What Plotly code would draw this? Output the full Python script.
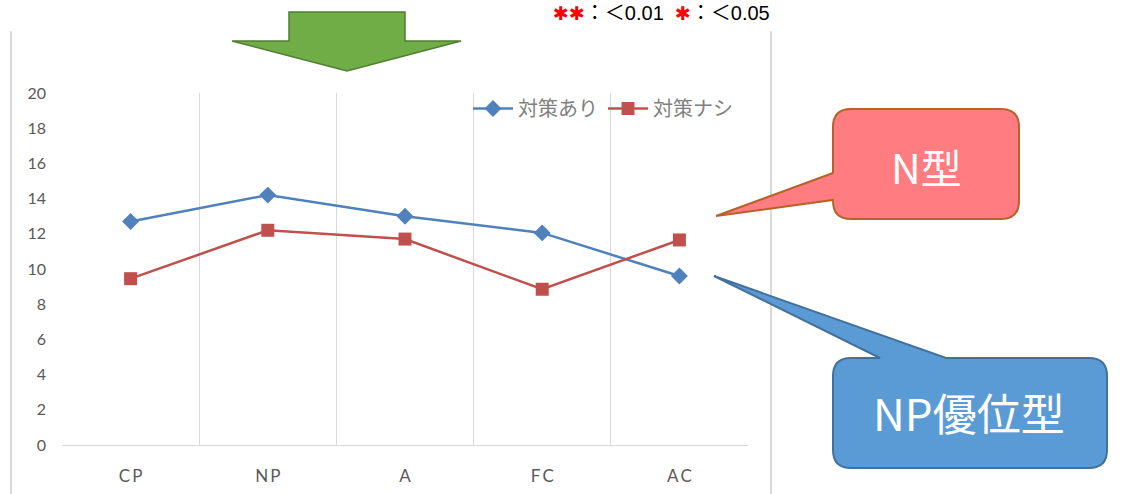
import plotly.graph_objects as go

# ---- data ----
categories = ["CP", "NP", "A", "FC", "AC"]
tick_labels = ["C\u2009P", "N\u2009P", "A", "F\u2009C", "A\u2009C"]
with_measures = [12.7, 14.2, 13.0, 12.05, 9.6]      # 対策あり
without_measures = [9.45, 12.2, 11.7, 8.85, 11.65]  # 対策ナシ
y_ticks = [0, 2, 4, 6, 8, 10, 12, 14, 16, 18, 20]

W, H = 1122, 494
ML, MR, MT, MB = 62, 374, 93, 49
PW, PH = W - ML - MR, H - MT - MB


def px(x):
    return (x - ML) / PW


def py(y):
    return (H - MB - y) / PH


def path(points):
    """Build an SVG path in paper coordinates from pixel-space commands."""
    out = []
    for cmd, *pts in points:
        coords = " ".join(f"{px(a):.5f},{py(b):.5f}" for a, b in pts)
        out.append(f"{cmd} {coords}".strip())
    return " ".join(out) + " Z"


def callout_side(x0, y0, x1, y1, r, tail_a, tip, tail_b):
    # rounded box with the pointer leaving the left edge
    return path([
        ("M", (x0 + r, y0)), ("L", (x1 - r, y0)), ("Q", (x1, y0), (x1, y0 + r)),
        ("L", (x1, y1 - r)), ("Q", (x1, y1), (x1 - r, y1)),
        ("L", (x0 + r, y1)), ("Q", (x0, y1), (x0, y1 - r)),
        ("L", (x0, tail_b)), ("L", tip), ("L", (x0, tail_a)),
        ("L", (x0, y0 + r)), ("Q", (x0, y0), (x0 + r, y0)),
    ])


def callout_top(x0, y0, x1, y1, r, tail_a, tip, tail_b):
    # rounded box with the pointer leaving the top edge
    return path([
        ("M", (x0 + r, y0)), ("L", (tail_a, y0)), ("L", tip), ("L", (tail_b, y0)),
        ("L", (x1 - r, y0)), ("Q", (x1, y0), (x1, y0 + r)),
        ("L", (x1, y1 - r)), ("Q", (x1, y1), (x1 - r, y1)),
        ("L", (x0 + r, y1)), ("Q", (x0, y1), (x0, y1 - r)),
        ("L", (x0, y0 + r)), ("Q", (x0, y0), (x0 + r, y0)),
    ])


fig = go.Figure()
fig.add_trace(go.Scatter(
    x=categories, y=with_measures, name="対策あり", mode="lines+markers",
    line=dict(color="#4F81BD", width=2.5),
    marker=dict(symbol="diamond", size=13, color="#4F81BD"),
))
fig.add_trace(go.Scatter(
    x=categories, y=without_measures, name="対策ナシ", mode="lines+markers",
    line=dict(color="#C0504D", width=2.5),
    marker=dict(symbol="square", size=13, color="#C0504D"),
))

shapes = [
    # outer frame lines
    dict(type="line", xref="paper", yref="paper", x0=px(11), x1=px(11), y0=py(31), y1=py(494),
         line=dict(color="#D9D9D9", width=2)),
    dict(type="line", xref="paper", yref="paper", x0=px(771), x1=px(771), y0=py(31), y1=py(494),
         line=dict(color="#D9D9D9", width=2)),
    # green down arrow
    dict(type="path", xref="paper", yref="paper",
         path=path([("M", (289, 12)), ("L", (405, 12)), ("L", (405, 41)), ("L", (461, 41)),
                    ("L", (347, 71)), ("L", (232, 41)), ("L", (289, 41))]),
         fillcolor="#70AD47", line=dict(color="#507E32", width=1.5)),
    # N型 callout
    dict(type="path", xref="paper", yref="paper",
         path=callout_side(833, 109, 1019, 219, 18, 173, (716, 216), 200),
         fillcolor="#FF7C80", line=dict(color="#B8612A", width=2)),
    # NP優位型 callout
    dict(type="path", xref="paper", yref="paper",
         path=callout_top(833, 358, 1107, 468, 18, 880, (714, 276), 946),
         fillcolor="#5B9BD5", line=dict(color="#41719C", width=2)),
]

star = "<span style='color:#FF0000;font-family:DejaVu Sans;font-size:19px'>{}</span>"
annotations = [
    dict(xref="paper", yref="paper", x=px(926), y=py(166), xanchor="center", yanchor="middle",
         text="N型", showarrow=False,
         font=dict(family="Noto Sans CJK JP", size=41, color="white")),
    dict(xref="paper", yref="paper", x=px(969), y=py(412), xanchor="center", yanchor="middle",
         text="NP優位型", showarrow=False,
         font=dict(family="Noto Sans CJK JP", size=44, color="white")),
    dict(xref="paper", yref="paper", x=px(551), y=py(13), xanchor="left", yanchor="middle",
         showarrow=False,
         text=star.format("✱✱") + "：＜0.01  " + star.format("✱") + "：＜0.05",
         font=dict(family="Liberation Sans, Noto Sans CJK JP", size=20, color="#000000")),
]

fig.update_layout(
    width=W, height=H,
    margin=dict(l=ML, r=MR, t=MT, b=MB, pad=0),
    paper_bgcolor="white", plot_bgcolor="white",
    showlegend=True,
    legend=dict(orientation="h", x=px(468), y=py(89), xanchor="left", yanchor="top",
                bgcolor="rgba(0,0,0,0)", itemwidth=40,
                font=dict(family="Noto Sans CJK JP", size=20, color="#7F7F7F")),
    shapes=shapes,
    annotations=annotations,
)
fig.update_xaxes(
    type="category", range=[-0.5, 4.5], tickson="boundaries",
    tickvals=categories, ticktext=tick_labels,
    showgrid=True, gridcolor="#D9D9D9", gridwidth=1,
    showline=True, linecolor="#D9D9D9", linewidth=1,
    ticks="", ticklabelstandoff=16, automargin=False,
    tickfont=dict(family="Lato", size=17, color="#595959"),
    zeroline=False,
)
fig.update_yaxes(
    range=[0, 20], tickvals=y_ticks, showgrid=False, zeroline=False,
    ticks="", ticklabelstandoff=15, automargin=False,
    tickfont=dict(family="Lato", size=16, color="#595959"),
)

fig.write_html("out.html")
